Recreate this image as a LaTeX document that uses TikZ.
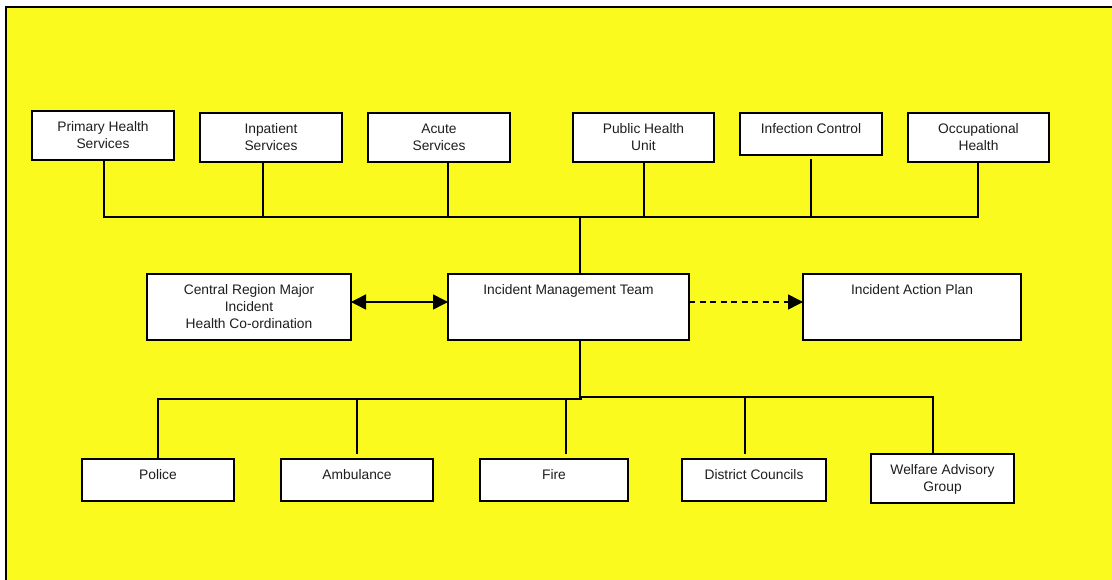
\documentclass[tikz,border=0pt]{standalone}
\usepackage{fontspec}
\setmainfont{Liberation Sans}
\usetikzlibrary{arrows.meta}
\definecolor{bgyellow}{RGB}{250,250,30}
\definecolor{txt}{RGB}{30,30,30}
\newcommand{\bx}[6]{\node[box, anchor=north west] (#1) at (#2,#3) {\parbox[c][#5pt][t]{#4pt}{\centering\rule{0pt}{20.5pt}#6}};}
\begin{document}
\begin{tikzpicture}[x=1pt,y=-1pt,
  >={Triangle[length=15pt,width=15pt]},
  box/.style={draw=black, fill=white, line width=1.5pt, inner sep=0pt, outer sep=0pt, text=txt,
    font=\fontsize{13.8}{16.8}\selectfont},
  conn/.style={draw=black, line width=1.5pt},
  dashconn/.style={draw=black, line width=1.5pt, dash pattern=on 6pt off 4.5pt}]
\fill[white] (0,0) rectangle (1112,580);
\clip (0,0) rectangle (1112,580);
\draw[fill=bgyellow, draw=black, line width=1.5pt] (6,7) rectangle (1120,590);
% top row
\bx{prim}{32}{111}{142}{49}{Primary Health\\Services}
\bx{inp}{200}{113}{142}{49}{Inpatient\\Services}
\bx{acute}{368}{113}{142}{49}{Acute\\Services}
\bx{phu}{573}{113}{141}{49}{Public Health\\Unit}
\bx{inf}{740}{113}{142}{42}{Infection Control}
\bx{occ}{908}{113}{141}{49}{Occupational\\Health}
% middle row
\bx{crm}{147}{274}{204}{66}{Central Region Major\\Incident\\Health Co-ordination}
\bx{imt}{448}{274}{241}{66}{Incident Management Team}
\bx{iap}{803}{274}{218}{66}{Incident Action Plan}
% bottom row
\bx{pol}{82}{459}{152}{42}{Police}
\bx{amb}{281}{459}{152}{42}{Ambulance}
\bx{fire}{480}{459}{148}{42}{Fire}
\bx{dc}{682}{459}{144}{42}{District Councils}
\bx{wag}{871}{454}{143}{49}{Welfare Advisory\\Group}
% bus coordinates
\coordinate (topbus) at (580,217);
\coordinate (botbusR) at (580,397);
\coordinate (botbusL) at (582,399);
\coordinate (imttop) at (580,274);
\coordinate (imtbot) at (580,340);
% top connectors
\draw[conn] ([xshift=1pt]prim.south) -- ([xshift=1pt]prim.south |- topbus) -- ([xshift=-0.5pt]occ.south |- topbus) -- ([xshift=-0.5pt]occ.south);
\draw[conn] ([xshift=-8pt]inp.south) -- ([xshift=-8pt]inp.south |- topbus);
\draw[conn] ([xshift=9pt]acute.south) -- ([xshift=9pt]acute.south |- topbus);
\draw[conn] ([xshift=0.5pt]phu.south) -- ([xshift=0.5pt]phu.south |- topbus);
\draw[conn] ([yshift=-4pt]inf.south) -- (inf.south |- topbus);
\draw[conn] (topbus) -- (imttop);
% middle arrows
\draw[conn, <->] ([yshift=5pt]crm.east) -- ([yshift=5pt]imt.west);
\draw[dashconn, ->] ([yshift=5pt]imt.east) -- ([yshift=5pt]iap.west);
% bottom connectors
\draw[conn] (imtbot) -- (botbusR) -- ([xshift=-9.5pt]wag.north |- botbusR) -- ([xshift=-9.5pt]wag.north);
\draw[conn] (botbusL) -- (pol.north |- botbusL) -- (pol.north);
\draw[conn] (amb.north |- botbusL) -- ([yshift=5pt]amb.north);
\draw[conn] ([xshift=12pt]fire.north |- botbusL) -- ([xshift=12pt,yshift=5pt]fire.north);
\draw[conn] ([xshift=-9pt]dc.north |- botbusR) -- ([xshift=-9pt,yshift=5pt]dc.north);
\end{tikzpicture}
\end{document}
